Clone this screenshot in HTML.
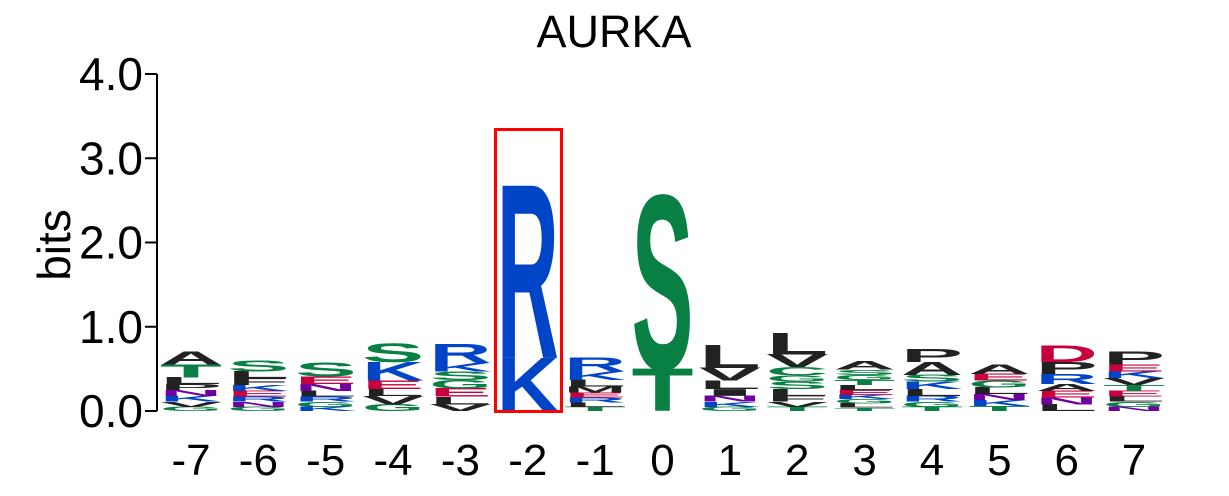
<!DOCTYPE html>
<html><head><meta charset="utf-8"><style>
html,body{margin:0;padding:0;background:#fff;width:1229px;height:496px;overflow:hidden}
svg text{font-family:"Liberation Sans",sans-serif}
</style></head><body>
<svg id="chart" width="1229" height="496" xmlns="http://www.w3.org/2000/svg">
<text x="614" y="47" font-size="45" text-anchor="middle">AURKA</text>
<text transform="translate(70,245) rotate(-90)" font-size="46" text-anchor="middle">bits</text>
<g id="yaxis"></g>
<g id="xaxis"></g>
<g id="letters"></g>
<rect x="495.5" y="129.5" width="66" height="282" fill="none" stroke="#f00" stroke-width="3"/>
</svg>
<script>
const positions = ["-7","-6","-5","-4","-3","-2","-1","0","1","2","3","4","5","6","7"];
const yTicks = [0,1,2,3,4];
const yTickLabels = ["0.0","1.0","2.0","3.0","4.0"];
// letters bottom-to-top per position
const stackLetters = [
 ["G","V","K","N","P","L","T","A"],
 ["G","N","R","E","K","F","L","S"],
 ["K","G","R","L","N","E","S"],
 ["G","V","L","E","K","S"],
 ["V","L","E","G","S","K","R"],
 ["K","R"],
 ["T","L","R","E","M","L","K","R"],
 ["T","S"],
 ["G","K","N","I","L","V","L"],
 ["T","V","F","L","S","G","C","V","L"],
 ["T","L","G","K","E","L","T","G","S","A"],
 ["T","G","R","L","K","S","A","P"],
 ["T","K","N","L","G","E","A"],
 ["L","N","E","A","R","P","D"],
 ["N","G","L","E","T","V","K","E","P"]
];
const stackHeights = [
 [0.05,0.06,0.07,0.07,0.07,0.08,0.15,0.15],
 [0.05,0.06,0.06,0.07,0.07,0.08,0.08,0.13],
 [0.05,0.06,0.06,0.07,0.08,0.09,0.17],
 [0.08,0.1,0.08,0.1,0.22,0.22],
 [0.08,0.09,0.1,0.1,0.1,0.1,0.23],
 [0.63,2.05],
 [0.05,0.05,0.06,0.06,0.07,0.08,0.1,0.17],
 [0.5,2.05],
 [0.05,0.06,0.07,0.08,0.1,0.15,0.27],
 [0.05,0.06,0.07,0.08,0.09,0.07,0.1,0.15,0.26],
 [0.04,0.05,0.05,0.05,0.06,0.06,0.06,0.06,0.06,0.1],
 [0.05,0.06,0.07,0.08,0.09,0.08,0.15,0.15],
 [0.06,0.07,0.07,0.08,0.08,0.08,0.11],
 [0.08,0.08,0.08,0.08,0.12,0.14,0.2],
 [0.05,0.06,0.06,0.07,0.07,0.08,0.08,0.08,0.15]
];
const colors = {K:"#0044c8",R:"#0044c8",H:"#0044c8",D:"#c8003c",E:"#c8003c",S:"#088044",T:"#088044",G:"#088044",C:"#088044",Y:"#088044",N:"#7000a0",Q:"#7000a0"};
const y0 = 411, pxPerBit = 84.25, x0 = 191, step = 67.36, lw = 62;
const yS = v => y0 - v*pxPerBit;
const xS = i => x0 + i*step;
const NS="http://www.w3.org/2000/svg";
const ya=document.getElementById('yaxis');
function mk(tag,attrs,parent){const e=document.createElementNS(NS,tag);for(const k in attrs)e.setAttribute(k,attrs[k]);parent.appendChild(e);return e;}
mk('line',{x1:157,x2:157,y1:yS(4),y2:y0,stroke:'#000','stroke-width':2},ya);
yTicks.forEach((t,i)=>{
  const l=mk('line',{x1:145,x2:157,y1:yS(t),y2:yS(t),stroke:'#000','stroke-width':2},ya);
  
  
  const tx=mk('text',{x:143,y:yS(t)+16,'font-size':46,'text-anchor':'end'},ya);
  tx.textContent=yTickLabels[i];
  
  
});
const xa=document.getElementById('xaxis');
positions.forEach((p,i)=>{
  const tx=mk('text',{x:xS(i),y:475,'font-size':44,'text-anchor':'middle'},xa);
  tx.textContent=p;
  
  
});
const lg=document.getElementById('letters');
stackLetters.forEach((col,i)=>{
  let acc=0;
  col.forEach((L,j)=>{
    const h=stackHeights[i][j];
    const bottom=yS(acc), hp=h*pxPerBit;
    acc+=h;
    const t=mk('text',{'font-size':100,'font-weight':'bold',textLength:lw,lengthAdjust:'spacingAndGlyphs',
      x:0,y:0,fill:colors[L]||'#222',transform:`translate(${xS(i)-lw/2},${bottom}) scale(1,${hp/69})`},lg);
    t.textContent=L;
    
    
  });
});
</script>
</body></html>
